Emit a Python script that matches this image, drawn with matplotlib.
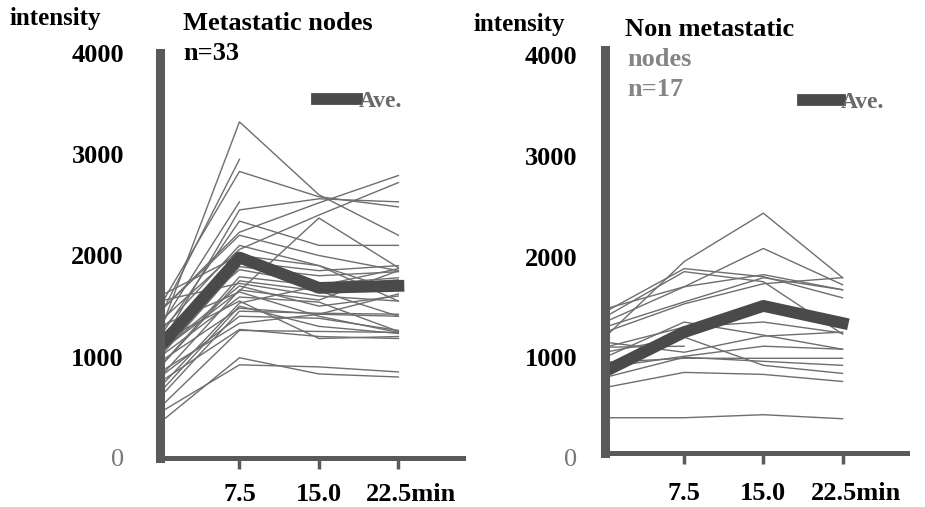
import numpy as np
import matplotlib
matplotlib.use("Agg")
import matplotlib.pyplot as plt
import matplotlib.transforms as mtrans

nan = np.nan

# sampling times (min)
times = [0, 7.5, 15.0, 22.5]
tick_times = [7.5, 15.0, 22.5]
tick_labels = ["7.5", "15.0", "22.5min"]
y_ticks = [0, 1000, 2000, 3000, 4000]

# metastatic nodes, n=33 (one row per node)
met_nodes = [
    [1250, 3320, 2600, 2200],
    [1500, 2830, 2580, 2480],
    [1400, 2950, nan, nan],
    [1300, 2530, nan, nan],
    [1450, 2230, 2520, 2790],
    [1350, 2060, 2400, 2720],
    [1100, 2450, 2560, 2530],
    [1200, 2340, 2100, 2100],
    [1050, 1650, 2370, 1880],
    [1150, 1940, 1850, 1900],
    [1000, 1890, 1800, 1840],
    [900, 1790, 1700, 1870],
    [1550, 1725, 1600, 1550],
    [800, 1660, 1560, 1850],
    [700, 1530, 1700, 1760],
    [950, 1480, 1420, 1620],
    [600, 1450, 1430, 1420],
    [850, 1330, 1420, 1400],
    [500, 1260, 1250, 1240],
    [650, 1500, 1300, 1230],
    [1300, 1640, 1400, 1240],
    [750, 1270, 1200, 1180],
    [350, 990, 830, 800],
    [450, 920, 900, 850],
    [1150, 1550, 1180, 1200],
    [1600, 2000, 1900, 1550],
    [1050, 1700, 1500, 1600],
    [1250, 2100, 1900, 1650],
    [900, 1750, 1650, 1400],
    [1450, 2200, 2000, 1850],
    [1000, 1590, 1540, 1250],
    [800, 1400, 1380, 1260],
    [1200, 1860, 1720, 1780],
]
met_ave = [1100, 1980, 1680, 1700]

# non metastatic nodes, n=17
non_nodes = [
    [1150, 1900, 2380, 1740],
    [1300, 1650, 2030, 1670],
    [1400, 1830, 1750, 1540],
    [1430, 1650, 1770, 1620],
    [1350, 1800, 1700, 1180],
    [1250, 1500, 1740, 1620],
    [1200, 1480, 1680, 1740],
    [1050, 1250, 1300, 1190],
    [950, 1300, 1170, 1030],
    [1100, 1000, 1160, 1200],
    [850, 960, 1060, 1030],
    [900, 940, 940, 940],
    [750, 950, 910, 870],
    [1000, 1150, 870, 790],
    [650, 800, 780, 710],
    [350, 350, 380, 340],
    [1050, 1060, nan, nan],
]
non_ave = [810, 1200, 1460, 1290]

W, H = 925, 507
fig = plt.figure(figsize=(W / 100, H / 100), dpi=100)
plt.rcParams['font.family'] = ['Liberation Serif', 'DejaVu Serif']

axis_col = "#5a5a5a"
line_col = "#6e6e6e"
ave_col = "#4a4a4a"


def fx(px):
    return px / W


def fy(py):
    return 1 - py / H


def make_panel(rect, rows, ave, ypad, xpad, leg_xy, ylab_shift, handle_len):
    ax = fig.add_axes(rect)
    for r in rows:
        ax.plot(times, r, color=line_col, lw=1.0)
    ave_line, = ax.plot(times, ave, color=ave_col, lw=8.5, solid_capstyle='projecting')
    ax.set_xlim(0, 28.6)
    ax.set_ylim(0, 4000)
    for s in ["top", "right"]:
        ax.spines[s].set_visible(False)
    ax.spines["left"].set_linewidth(6.5)
    ax.spines["left"].set_color(axis_col)
    ax.spines["bottom"].set_linewidth(3.6)
    ax.spines["bottom"].set_color(axis_col)
    ax.set_xticks(tick_times)
    ax.set_xticklabels(tick_labels)
    ax.set_yticks(y_ticks)
    ax.set_yticklabels([str(v) for v in y_ticks])
    ax.tick_params(axis="x", length=8, width=2.5, color=axis_col, pad=xpad,
                   labelsize=19)
    ax.tick_params(axis="y", length=0, pad=ypad, labelsize=19)
    for lab in ax.get_xticklabels() + ax.get_yticklabels():
        lab.set_fontweight("bold")
    # the unit sits after the last tick value
    last = ax.get_xticklabels()[-1]
    last.set_horizontalalignment("left")
    last.set_transform(last.get_transform() +
                       mtrans.ScaledTranslation(-32 / 100, 0, fig.dpi_scale_trans))
    if ylab_shift:
        for lab in ax.get_yticklabels():
            lab.set_transform(lab.get_transform() +
                              mtrans.ScaledTranslation(0, -ylab_shift / 100, fig.dpi_scale_trans))
    zero = ax.get_yticklabels()[0]
    zero.set_color("#777777")
    zero.set_fontweight("normal")
    ax.legend([ave_line], ["Ave."], loc="center left",
              bbox_to_anchor=(fx(leg_xy[0]), fy(leg_xy[1])),
              bbox_transform=fig.transFigure, frameon=False,
              handlelength=handle_len, handletextpad=0.05, borderpad=0, borderaxespad=0,
              prop={"family": "Liberation Serif", "weight": "bold", "size": 17},
              labelcolor="#6a6a6a")
    return ax


ax1 = make_panel([fx(160), fy(458), fx(463 - 160), (458 - 53) / H],
                 met_nodes, met_ave, 26, 10, (317, 101), 0, 1.7)
ax2 = make_panel([fx(605), fy(453), fx(907 - 605), (453 - 50) / H],
                 non_nodes, non_ave, 20, 13, (803, 102), 5, 1.55)

bold = dict(fontweight="bold", va="center", ha="left")
fig.text(fx(10), fy(18), "intensity", fontsize=18, **bold)
fig.text(fx(183), fy(23), "Metastatic nodes", fontsize=19, **bold)
fig.text(fx(183), fy(53), "n=33", fontsize=19, **bold)
fig.text(fx(473), fy(24), "intensity", fontsize=18, **bold)
fig.text(fx(625), fy(29), "Non metastatic", fontsize=19, **bold)
fig.text(fx(627), fy(59), "nodes", fontsize=19, color="#858585", **bold)
fig.text(fx(627), fy(89), "n=17", fontsize=19, color="#858585", **bold)

fig.savefig("out.png", dpi=100)
